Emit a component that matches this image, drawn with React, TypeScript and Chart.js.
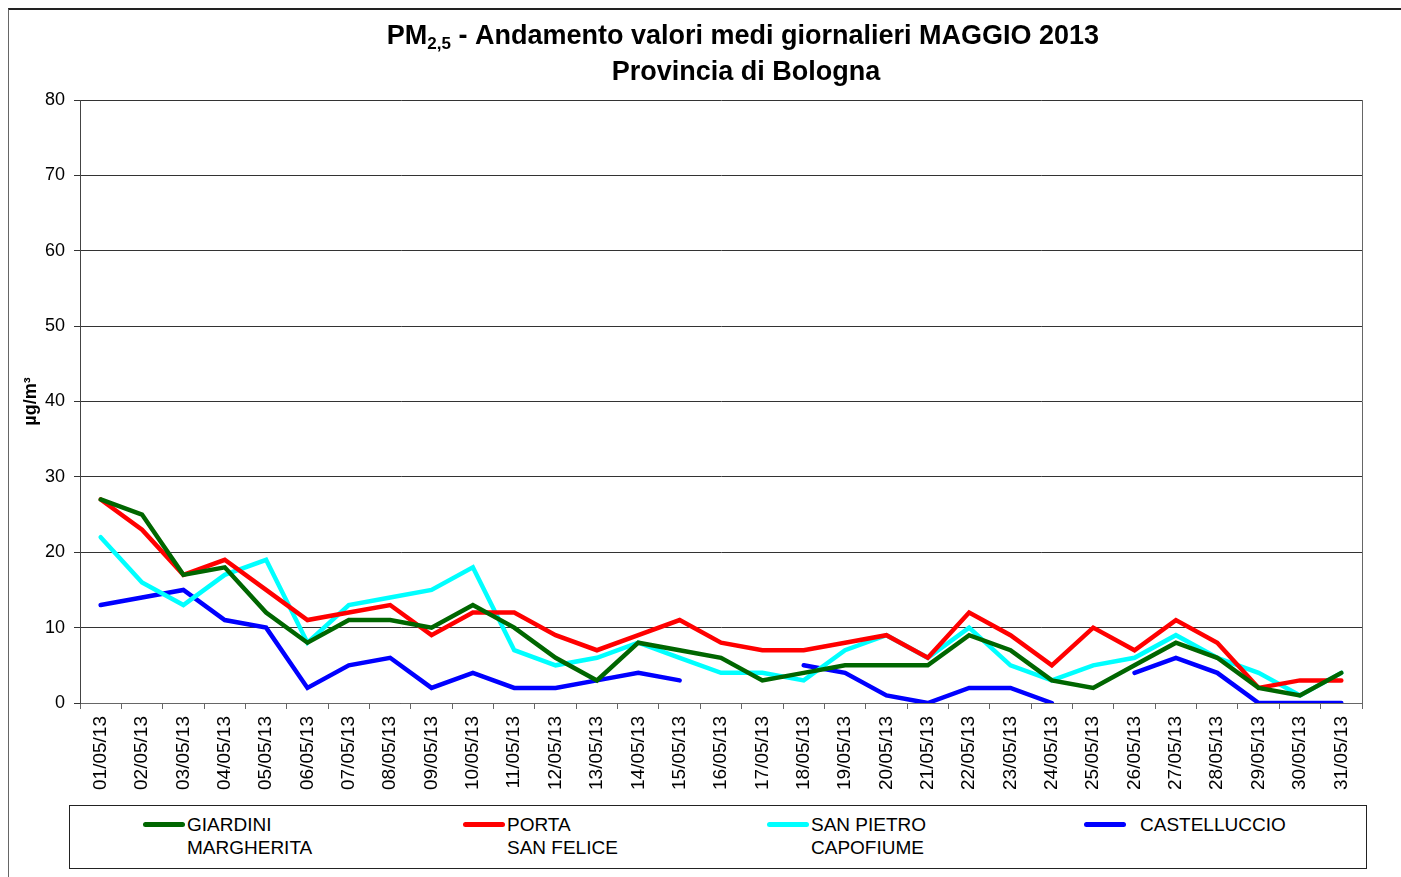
import React, { useEffect, useRef } from "react";
import { Chart, registerables } from "chart.js";

Chart.register(...registerables);

const labels = [
  "01/05/13", "02/05/13", "03/05/13", "04/05/13", "05/05/13", "06/05/13", "07/05/13", "08/05/13",
  "09/05/13", "10/05/13", "11/05/13", "12/05/13", "13/05/13", "14/05/13", "15/05/13", "16/05/13",
  "17/05/13", "18/05/13", "19/05/13", "20/05/13", "21/05/13", "22/05/13", "23/05/13", "24/05/13",
  "25/05/13", "26/05/13", "27/05/13", "28/05/13", "29/05/13", "30/05/13", "31/05/13",
];

const giardini = [27, 25, 17, 18, 12, 8, 11, 11, 10, 13, 10, 6, 3, 8, 7, 6, 3, 4, 5, 5, 5, 9, 7, 3, 2, 5, 8, 6, 2, 1, 4];
const portaSanFelice = [27, 23, 17, 19, 15, 11, 12, 13, 9, 12, 12, 9, 7, 9, 11, 8, 7, 7, 8, 9, 6, 12, 9, 5, 10, 7, 11, 8, 2, 3, 3];
const sanPietro = [22, 16, 13, 17, 19, 8, 13, 14, 15, 18, 7, 5, 6, 8, 6, 4, 4, 3, 7, 9, 6, 10, 5, 3, 5, 6, 9, 6, 4, 1, 4];
const castelluccio = [13, 14, 15, 11, 10, 2, 5, 6, 2, 4, 2, 2, 3, 4, 3, null, null, 5, 4, 1, 0, 2, 2, 0, null, 4, 6, 4, 0, 0, 0];

const yTicks = [0, 10, 20, 30, 40, 50, 60, 70, 80];

const seriesNames = ["GIARDINI MARGHERITA", "PORTA SAN FELICE", "SAN PIETRO CAPOFIUME", "CASTELLUCCIO"];
const colors = ["#006600", "#FF0000", "#00FFFF", "#0000FF"];

const FONT = "Arial, 'Liberation Sans', sans-serif";

const titlePlugin = {
  id: "customTitle",
  afterDraw(chart: any) {
    const ctx = chart.ctx;
    ctx.save();
    ctx.fillStyle = "#000";
    ctx.textBaseline = "middle";
    const cx = 743;
    const big = `bold 27px ${FONT}`;
    const small = `bold 17px ${FONT}`;
    const p1 = "PM";
    const sub = "2,5";
    const rest = " - Andamento valori medi giornalieri MAGGIO 2013";
    ctx.font = big;
    const w1 = ctx.measureText(p1).width;
    const w3 = ctx.measureText(rest).width;
    ctx.font = small;
    const w2 = ctx.measureText(sub).width;
    let x = cx - (w1 + w2 + w3) / 2;
    const y = 37;
    ctx.textAlign = "left";
    ctx.font = big;
    ctx.fillText(p1, x, y);
    x += w1;
    ctx.font = small;
    ctx.fillText(sub, x, y + 7);
    x += w2;
    ctx.font = big;
    ctx.fillText(rest, x, y);
    ctx.textAlign = "center";
    ctx.fillText("Provincia di Bologna", 746, 73);
    // right border of plot area
    const a = chart.chartArea;
    ctx.strokeStyle = "#666";
    ctx.lineWidth = 1;
    ctx.beginPath();
    ctx.moveTo(a.right + 0.5, a.top);
    ctx.lineTo(a.right + 0.5, a.bottom);
    ctx.stroke();
    ctx.restore();
  },
};

export default function App() {
  const ref = useRef<HTMLCanvasElement>(null);

  useEffect(() => {
    const data = [giardini, portaSanFelice, sanPietro, castelluccio];
    const chart = new Chart(ref.current as HTMLCanvasElement, {
      type: "line",
      data: {
        labels,
        datasets: data.map((d, i) => ({
          label: seriesNames[i],
          data: d,
          borderColor: colors[i],
          backgroundColor: colors[i],
          borderWidth: 4.5,
          pointRadius: 0,
          pointHoverRadius: 0,
          tension: 0,
          spanGaps: false,
          borderCapStyle: "round" as const,
          borderJoinStyle: "miter" as const,
        })),
      },
      options: {
        responsive: false,
        animation: false,
        devicePixelRatio: 1,
        layout: { padding: { left: 8, right: 39, top: 100, bottom: 0 } },
        plugins: {
          legend: { display: false },
          title: { display: false },
          tooltip: { enabled: false },
        },
        scales: {
          x: {
            type: "category",
            offset: true,
            grid: {
              offset: true,
              drawOnChartArea: false,
              drawTicks: true,
              tickLength: 6,
              color: "#666",
            },
            border: { color: "#666" },
            ticks: {
              minRotation: 90,
              maxRotation: 90,
              autoSkip: false,
              padding: 7,
              color: "#000",
              font: { family: FONT, size: 19 },
            },
            afterFit: (s: any) => {
              s.height = 97;
            },
          },
          y: {
            min: 0,
            max: 80,
            afterBuildTicks: (s: any) => {
              s.ticks = yTicks.map((v) => ({ value: v }));
            },
            grid: { color: "#333", tickLength: 6, drawTicks: true },
            border: { color: "#444" },
            ticks: {
              padding: 9,
              color: "#000",
              font: { family: FONT, size: 18 },
            },
            title: {
              display: true,
              text: "µg/m³",
              color: "#000",
              font: { family: FONT, size: 18, weight: "bold" },
              padding: { top: 12, bottom: 0 },
            },
            afterFit: (s: any) => {
              s.width = 72;
            },
          },
        },
      },
      plugins: [titlePlugin],
    } as any);
    return () => chart.destroy();
  }, []);

  const legendItems = [
    { lines: ["GIARDINI", "MARGHERITA"], swatch: 143, text: 187 },
    { lines: ["PORTA", "SAN FELICE"], swatch: 463, text: 507 },
    { lines: ["SAN PIETRO", "CAPOFIUME"], swatch: 767, text: 811 },
    { lines: ["CASTELLUCCIO"], swatch: 1084, text: 1140 },
  ];

  return (
    <div
      style={{
        position: "fixed",
        left: 0,
        top: 0,
        width: 1401,
        height: 877,
        overflow: "hidden",
        background: "#fff",
      }}
    >
      <div
        style={{
          position: "absolute",
          left: 8,
          top: 8,
          width: 1400,
          height: 880,
          borderLeft: "1px solid #666",
          borderTop: "2px solid #222",
        }}
      />
      <canvas
        ref={ref}
        width={1401}
        height={800}
        style={{ position: "absolute", left: 0, top: 0, width: 1401, height: 800 }}
      />
      <div
        style={{
          position: "absolute",
          left: 69,
          top: 805,
          width: 1296,
          height: 62,
          border: "1px solid #222",
          boxSizing: "content-box",
        }}
      />
      {legendItems.map((it, i) => (
        <React.Fragment key={i}>
          <div
            style={{
              position: "absolute",
              left: it.swatch,
              top: 822,
              width: 42,
              height: 5,
              borderRadius: 3,
              background: colors[i],
            }}
          />
          <div
            style={{
              position: "absolute",
              left: it.text,
              top: 813,
              fontFamily: FONT,
              fontSize: 19,
              lineHeight: "23px",
              color: "#000",
              whiteSpace: "nowrap",
            }}
          >
            {it.lines.map((l, j) => (
              <div key={j}>{l}</div>
            ))}
          </div>
        </React.Fragment>
      ))}
    </div>
  );
}
